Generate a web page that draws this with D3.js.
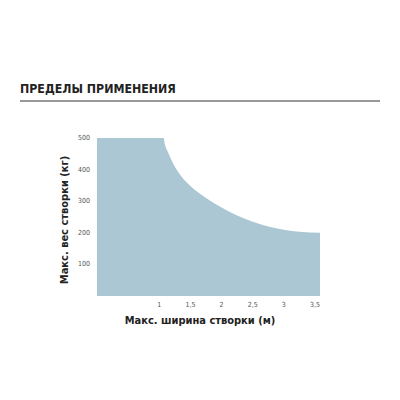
<!DOCTYPE html>
<html><head><meta charset="utf-8">
<script src="https://cdn.jsdelivr.net/npm/d3@7"></script>
<style>body{margin:0;background:#fff}</style></head>
<body><script>
const widths = [0, 1.07, 1.09, 1.14, 1.22, 1.35, 1.5, 1.75, 2, 2.25, 2.5, 2.75, 3, 3.25, 3.58];
const weights = [500, 500, 480, 455, 420, 380, 348, 310, 280, 255, 235, 220, 210, 203, 200];
const xTicks = [1, 1.5, 2, 2.5, 3, 3.5];
const xTickLabels = ["1", "1,5", "2", "2,5", "3", "3,5"];
const yTicks = [100, 200, 300, 400, 500];

const svg = d3.select("body").append("svg").attr("width", 400).attr("height", 400);
const x = d3.scaleLinear().domain([0, 3.5]).range([97, 315]);
const y = d3.scaleLinear().domain([0, 500]).range([296, 138]);

svg.append("text").attr("x", 20).attr("y", 93).text("ПРЕДЕЛЫ ПРИМЕНЕНИЯ")
  .attr("font-family", "DejaVu Sans Condensed, sans-serif").attr("font-weight", "bold")
  .attr("font-size", 12.3).attr("fill", "#222");
svg.append("line").attr("x1", 20).attr("x2", 380).attr("y1", 101).attr("y2", 101)
  .attr("stroke", "#333").attr("stroke-width", 1);

const area = d3.area().x((d, i) => x(widths[i])).y0(y(0)).y1(d => y(d)).curve(d3.curveMonotoneX);
svg.append("path").datum(weights).attr("d", area).attr("fill", "#abc7d3");

const font = "DejaVu Sans Condensed, sans-serif";
svg.selectAll(".xt").data(xTicks).join("text").attr("x", d => x(d)).attr("y", 307)
  .attr("text-anchor", "middle").attr("font-size", 7).attr("font-family", font).attr("fill", "#555")
  .text((d, i) => xTickLabels[i]);
svg.selectAll(".yt").data(yTicks).join("text").attr("x", 84).attr("y", d => y(d) + 2)
  .attr("text-anchor", "middle").attr("font-size", 7).attr("font-family", font).attr("fill", "#555")
  .text(d => d);

svg.append("text").attr("x", 200).attr("y", 324).attr("text-anchor", "middle")
  .attr("font-family", font).attr("font-weight", "bold").attr("font-size", 11).attr("fill", "#222")
  .text("Макс. ширина створки (м)");
svg.append("text").attr("transform", "translate(68,220) rotate(-90)").attr("text-anchor", "middle")
  .attr("font-family", font).attr("font-weight", "bold").attr("font-size", 11).attr("fill", "#222")
  .text("Макс. вес створки (кг)");
</script></body></html>
